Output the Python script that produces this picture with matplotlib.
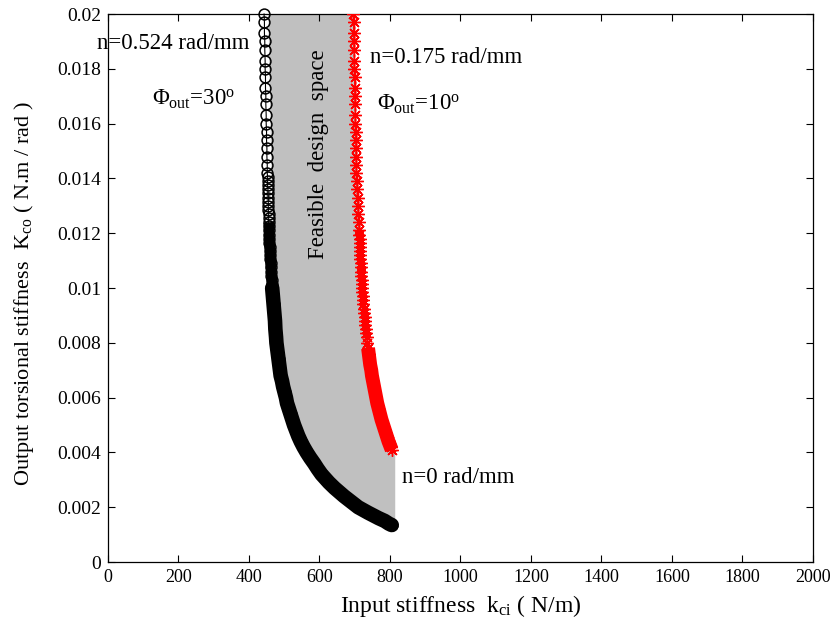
import matplotlib
matplotlib.use("Agg")
import matplotlib.pyplot as plt

plt.rcParams['font.family'] = ['Liberation Serif', 'DejaVu Serif']
plt.rcParams['mathtext.fontset'] = 'custom'
plt.rcParams['mathtext.rm'] = 'Liberation Serif'
plt.rcParams['mathtext.it'] = 'Liberation Serif:italic'

# Black curve (Phi_out = 30 deg, n = 0.524 rad/mm)
black_y = [0.0200, 0.0197, 0.0193, 0.0190, 0.0187, 0.0183, 0.0180, 0.0177, 0.0173, 0.0170,
           0.0167, 0.0163, 0.0160, 0.0157, 0.0154, 0.0151, 0.0148, 0.0145, 0.0142, 0.01405,
           0.0139, 0.01375, 0.0136, 0.01345, 0.0133, 0.01315, 0.0130, 0.01285, 0.0127, 0.01255,
           0.0124, 0.01225, 0.0121, 0.01195, 0.0118, 0.01165, 0.0115, 0.01135, 0.0112, 0.01105,
           0.0109, 0.01075, 0.0106, 0.01045, 0.0103, 0.01015, 0.0100,
           0.0097, 0.0094, 0.0091, 0.0088, 0.0085, 0.0082, 0.0080,
           0.0078, 0.0076, 0.0074, 0.0072, 0.0070, 0.0068, 0.0066, 0.0064, 0.0062, 0.0060,
           0.0058, 0.0056, 0.0054, 0.0052, 0.0050, 0.0048, 0.0046, 0.0044, 0.0042, 0.0040,
           0.0038, 0.0036, 0.0034, 0.0032, 0.0030, 0.0029, 0.0028, 0.0027, 0.0026, 0.0025,
           0.0024, 0.0023, 0.0022, 0.0021, 0.0020, 0.0019, 0.0018, 0.0017, 0.0016, 0.0015,
           0.0014, 0.00135]
black_x = [443, 444, 444, 445, 445, 446, 446, 447, 447, 448,
           448, 449, 449, 450, 450, 451, 451, 452, 452, 453,
           453, 453, 454, 454, 455, 455, 455, 455, 456, 456,
           456, 457, 457, 457, 458, 458, 459, 460, 461, 461,
           462, 462, 463, 464, 465, 465, 466,
           468, 470, 472, 474, 475, 477, 478,
           480, 482, 484, 486, 488, 490, 494, 497, 501, 505,
           508, 513, 518, 523, 528, 534, 540, 547, 555, 564,
           574, 585, 595, 606, 620, 627, 635, 643, 652, 661,
           670, 680, 690, 700, 710, 724, 738, 753, 768, 785,
           797, 805]

# Red curve (Phi_out = 10 deg, n = 0.175 rad/mm)
red_y = [0.0200, 0.0197, 0.0193, 0.0190, 0.0187, 0.0183, 0.0180, 0.0177, 0.0173, 0.0170,
         0.0167, 0.0163, 0.0160, 0.0157, 0.0154, 0.0151, 0.0148, 0.0145, 0.0142, 0.0139,
         0.0136, 0.0133, 0.0130, 0.0127, 0.0124, 0.0121, 0.01195, 0.0118, 0.01165, 0.0115,
         0.01135, 0.0112, 0.01105, 0.0109, 0.01075, 0.0106, 0.01045, 0.0103, 0.01015, 0.0100,
         0.00985, 0.0097, 0.00955, 0.0094, 0.00925, 0.0091, 0.00895, 0.0088, 0.00865, 0.0085,
         0.00835, 0.0082, 0.0080,
         0.0078, 0.0076, 0.0074, 0.0072, 0.0070, 0.0068, 0.0066, 0.0064, 0.0062, 0.0060,
         0.0058, 0.0056, 0.0054, 0.0052, 0.0050, 0.0048, 0.0046, 0.0044, 0.0042, 0.0041]
red_x = [696, 697, 697, 698, 698, 699, 699, 700, 700, 701,
         701, 702, 702, 703, 703, 704, 704, 705, 705, 706,
         707, 708, 709, 710, 711, 713, 713, 714, 714, 715,
         715, 716, 716, 717, 717, 718, 719, 720, 720, 721,
         722, 723, 724, 725, 726, 727, 728, 729, 730, 731,
         732, 734, 736,
         738, 740, 742, 744, 747, 749, 752, 755, 758, 761,
         764, 768, 772, 776, 781, 786, 791, 796, 802, 805]

fill_right = 815  # n = 0 rad/mm boundary
black_mid_below = 0.0124     # markers start to overlap
black_dense_below = 0.0100   # markers overlap into a solid band below this value
red_dense_below = 0.0078

x_ticks = [0, 200, 400, 600, 800, 1000, 1200, 1400, 1600, 1800, 2000]
y_ticks = [0, 0.002, 0.004, 0.006, 0.008, 0.01, 0.012, 0.014, 0.016, 0.018, 0.02]
y_tick_labels = ['0', '0.002', '0.004', '0.006', '0.008', '0.01', '0.012', '0.014', '0.016', '0.018', '0.02']

fig = plt.figure(figsize=(8.3, 6.29), dpi=100)
ax = fig.add_axes([0.130, 0.1065, 0.8495, 0.8712])

# feasible region polygon
poly_x = list(black_x) + [fill_right, fill_right] + list(reversed(red_x))
poly_y = list(black_y) + [black_y[-1], red_y[-1]] + list(reversed(red_y))
ax.fill(poly_x, poly_y, color='#c0c0c0', lw=0, zorder=1)

ax.plot(black_x, black_y, color='white', lw=6, zorder=2, solid_capstyle='butt')
bm = [i for i, v in enumerate(black_y) if black_dense_below <= v <= black_mid_below]
ax.plot([black_x[i] for i in bm], [black_y[i] for i in bm], color='black', lw=7.5,
        solid_capstyle='butt', solid_joinstyle='round', zorder=3)
bd = [i for i, v in enumerate(black_y) if v <= black_dense_below]
ax.plot([black_x[i] for i in bd], [black_y[i] for i in bd], color='black', lw=10.5,
        solid_capstyle='round', solid_joinstyle='round', zorder=3)
ax.plot(black_x, black_y, color='black', lw=0.8, marker='o', markersize=7.8,
        markerfacecolor='none', markeredgecolor='black', markeredgewidth=1.1, zorder=3,
        clip_on=False)

rd = [i for i, v in enumerate(red_y) if v <= red_dense_below]
ax.plot([red_x[i] for i in rd], [red_y[i] for i in rd], color='red', lw=10,
        solid_capstyle='butt', solid_joinstyle='round', zorder=3)
ax.plot(red_x, red_y, color='red', lw=0.8, marker=(8, 2, 0), markersize=9,
        markeredgecolor='red', markeredgewidth=1.0, zorder=3)

ax.set_xlim(0, 2000)
ax.set_ylim(0, 0.02)
ax.set_xticks(x_ticks)
ax.set_xticklabels([str(t) for t in x_ticks])
ax.set_yticks(y_ticks)
ax.set_yticklabels(y_tick_labels)
ax.tick_params(direction='in', top=True, right=True, length=5, width=0.8, pad=5)
ax.tick_params(axis='x', labelsize=13)
ax.tick_params(axis='y', labelsize=14)
for s in ax.spines.values():
    s.set_linewidth(0.9)

ax.set_xlabel(r'Input stiffness  k$_{\mathrm{ci}}$ ( N/m)', fontsize=17)
ax.set_ylabel(r'Output torsional stiffness  K$_{\mathrm{co}}$ ( N.m / rad )', fontsize=16)
ax.xaxis.set_label_coords(0.5, -0.056)
ax.yaxis.set_label_coords(-0.102, 0.49)

fs = 16.5
ax.text(-31, 0.01892, 'n=0.524 rad/mm', fontsize=fs, ha='left', va='center', clip_on=False, zorder=5)
ax.text(743, 0.01840, 'n=0.175 rad/mm', fontsize=fs, ha='left', va='center', zorder=5)
ax.text(125, 0.01688, r'$\Phi_{\mathrm{out}}$=30$^{\mathrm{o}}$', fontsize=fs, ha='left', va='center', zorder=5)
ax.text(763, 0.01672, r'$\Phi_{\mathrm{out}}$=10$^{\mathrm{o}}$', fontsize=fs, ha='left', va='center', zorder=5)
ax.text(834, 0.0031, 'n=0 rad/mm', fontsize=fs, ha='left', va='center', zorder=5)
ax.text(596, 0.01489, 'Feasible  design  space', fontsize=fs, rotation=90, ha='center', va='center', zorder=5)

fig.savefig('out.png', dpi=100)
